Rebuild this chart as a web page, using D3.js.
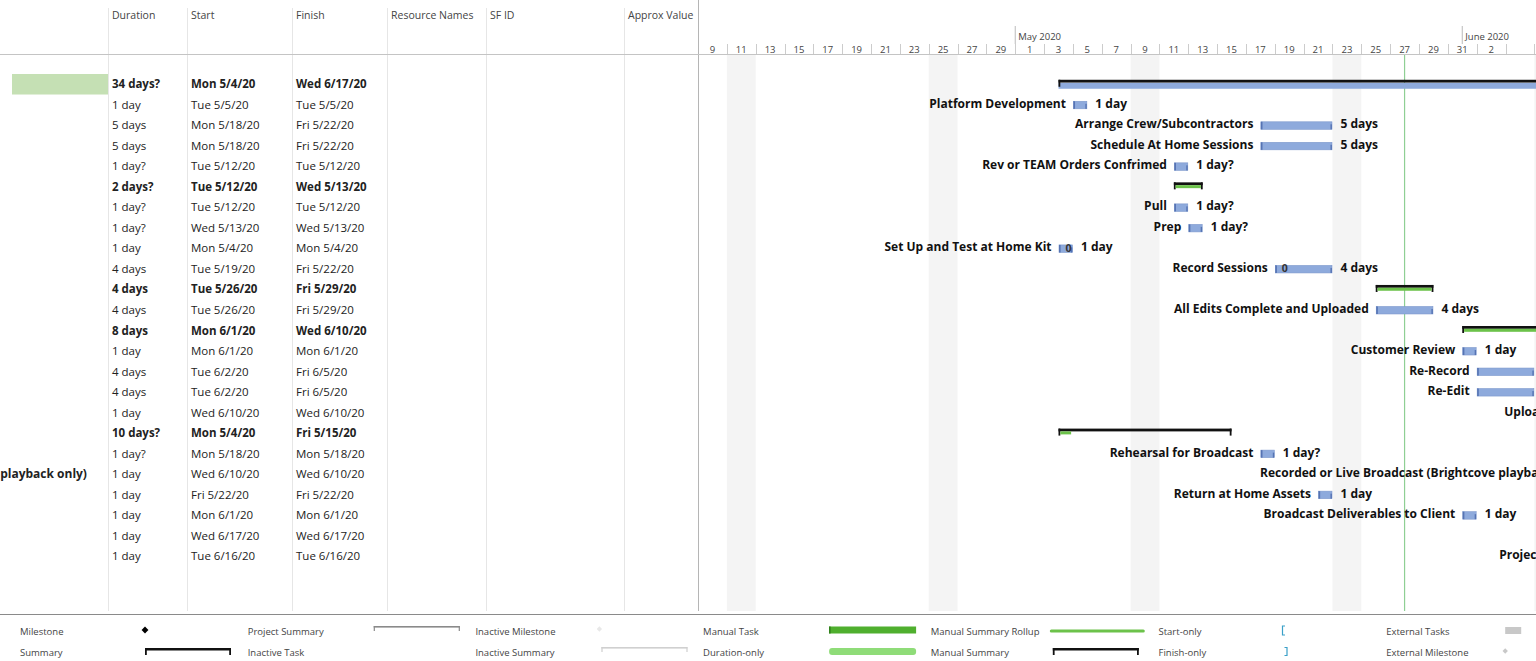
<!DOCTYPE html>
<html lang="en">
<head>
    <meta charset="UTF-8">
    <script src="https://cdn.jsdelivr.net/npm/d3@7"></script>
    <style>
        body { margin: 0; background: #fff; }
        svg { display: block; font-family: "Open Sans", "Noto Sans", sans-serif; }
        .hdr { font-size: 10.5px; fill: #444; }
        .cell { font-size: 11.5px; fill: #222; }
        .bold { font-weight: bold; }
        .lbl { font-size: 12px; font-weight: bold; fill: #111; }
        .leg { font-size: 9.5px; fill: #444; }
    </style>
</head>
<body>
<svg width="1536" height="661"></svg>
<script>
    // table columns
    var columns = ["Duration", "Start", "Finish", "Resource Names", "SF ID", "Approx Value"];

    // tasks, one entry per row
    var names = ["", "Platform Development", "Arrange Crew/Subcontractors", "Schedule At Home Sessions",
        "Rev or TEAM Orders Confrimed", "", "Pull", "Prep", "Set Up and Test at Home Kit", "Record Sessions",
        "", "All Edits Complete and Uploaded", "", "Customer Review", "Re-Record", "Re-Edit", "Upload Finals",
        "", "Rehearsal for Broadcast", "Recorded or Live Broadcast (Brightcove playback only)",
        "Return at Home Assets", "Broadcast Deliverables to Client", "Invoice Client", "Project Closeout with Clients"];
    var durations = ["34 days?", "1 day", "5 days", "5 days", "1 day?", "2 days?", "1 day?", "1 day?", "1 day",
        "4 days", "4 days", "4 days", "8 days", "1 day", "4 days", "4 days", "1 day", "10 days?", "1 day?",
        "1 day", "1 day", "1 day", "1 day", "1 day"];
    var starts = ["Mon 5/4/20", "Tue 5/5/20", "Mon 5/18/20", "Mon 5/18/20", "Tue 5/12/20", "Tue 5/12/20",
        "Tue 5/12/20", "Wed 5/13/20", "Mon 5/4/20", "Tue 5/19/20", "Tue 5/26/20", "Tue 5/26/20", "Mon 6/1/20",
        "Mon 6/1/20", "Tue 6/2/20", "Tue 6/2/20", "Wed 6/10/20", "Mon 5/4/20", "Mon 5/18/20", "Wed 6/10/20",
        "Fri 5/22/20", "Mon 6/1/20", "Wed 6/17/20", "Tue 6/16/20"];
    var finishes = ["Wed 6/17/20", "Tue 5/5/20", "Fri 5/22/20", "Fri 5/22/20", "Tue 5/12/20", "Wed 5/13/20",
        "Tue 5/12/20", "Wed 5/13/20", "Mon 5/4/20", "Fri 5/22/20", "Fri 5/29/20", "Fri 5/29/20", "Wed 6/10/20",
        "Mon 6/1/20", "Fri 6/5/20", "Fri 6/5/20", "Wed 6/10/20", "Fri 5/15/20", "Mon 5/18/20", "Wed 6/10/20",
        "Fri 5/22/20", "Mon 6/1/20", "Wed 6/17/20", "Tue 6/16/20"];
    var summaryRows = [0, 5, 10, 12, 17];
    // green rollup segments under the summary bars: [row, start, finish]
    var rollups = [[5, "5/12/20", "5/13/20"], [10, "5/26/20", "5/29/20"], [12, "6/1/20", "6/10/20"], [17, "5/4/20", "5/4/20"]];
    var indicatorRows = [8, 9];

    // timescale
    var viewStart = "4/9/20";
    var viewEnd = "6/7/20";
    var lastDayLabel = "6/2/20";
    var monthLabels = ["May 2020", "June 2020"];
    var monthStarts = ["5/1/20", "6/1/20"];
    var weekendShade = ["4/11/20", "4/25/20", "5/9/20", "5/23/20", "6/6/20"];
    var statusDate = "5/28/20";

    // legend
    var legendItems = [
        ["Milestone", "diamond"], ["Summary", "summary"],
        ["Project Summary", "projsum"], ["Inactive Task", "none"],
        ["Inactive Milestone", "fadediamond"], ["Inactive Summary", "fadesum"],
        ["Manual Task", "manual"], ["Duration-only", "duronly"],
        ["Manual Summary Rollup", "rollup"], ["Manual Summary", "summary"],
        ["Start-only", "startonly"], ["Finish-only", "finishonly"],
        ["External Tasks", "exttask"], ["External Milestone", "extmile"]
    ];
</script>
<script>
    var svg = d3.select("svg");
    var W = 1536, H = 661;
    var chartLeft = 698, headerBottom = 54, rowTop = 74, rowH = 20.52, gridBottom = 611;
    var colX = [108, 187, 292, 387, 486, 624, 698];

    var parseShort = d3.timeParse("%m/%d/%y");
    var parseLong = function (s) { return parseShort(s.split(" ")[1]); };

    var x = d3.scaleTime()
        .domain([parseShort(viewStart), parseShort(viewEnd)])
        .range([chartLeft, chartLeft + 59 * 14.42]);
    var y = function (i) { return rowTop + i * rowH + rowH / 2; };

    var chart = svg.append("g");
    svg.append("clipPath").attr("id", "clipChart")
        .append("rect").attr("x", chartLeft).attr("y", 0).attr("width", W - chartLeft).attr("height", gridBottom);
    chart.attr("clip-path", "url(#clipChart)");

    // weekend bands
    chart.selectAll(".wk").data(weekendShade).enter().append("rect")
        .attr("x", function (d) { return x(parseShort(d)); })
        .attr("y", headerBottom + 1)
        .attr("width", function (d) { return x(d3.timeDay.offset(parseShort(d), 2)) - x(parseShort(d)); })
        .attr("height", gridBottom - headerBottom)
        .attr("fill", "#f4f4f4");

    // status date line
    chart.append("line")
        .attr("x1", x(parseShort(statusDate))).attr("x2", x(parseShort(statusDate)))
        .attr("y1", headerBottom).attr("y2", gridBottom)
        .attr("stroke", "#8fcf94").attr("stroke-width", 1.2);

    // timescale: month tier
    monthStarts.forEach(function (m, i) {
        var mx = x(parseShort(m));
        chart.append("line").attr("x1", mx).attr("x2", mx).attr("y1", 26).attr("y2", 44)
            .attr("stroke", "#bbb");
        chart.append("text").attr("class", "hdr").attr("x", mx + 3).attr("y", 40)
            .style("font-size", "9.5px").text(monthLabels[i]);
    });

    // timescale: day tier (two-day cells)
    var cells = d3.range(0, 30).map(function (k) { return d3.timeDay.offset(parseShort(viewStart), 2 * k); });
    var labelled = cells.filter(function (d) { return d <= parseShort(lastDayLabel); });
    var fmtDay = d3.timeFormat("%-d");
    chart.selectAll(".dtick").data(cells).enter().append("line")
        .attr("x1", function (d) { return Math.round(x(d)) + 0.5; })
        .attr("x2", function (d) { return Math.round(x(d)) + 0.5; })
        .attr("y1", 44).attr("y2", headerBottom)
        .attr("stroke", "#ccc");
    chart.selectAll(".dlab").data(labelled).enter().append("text")
        .attr("class", "hdr")
        .attr("x", function (d) { return (x(d) + x(d3.timeDay.offset(d, 2))) / 2; })
        .attr("y", 53)
        .attr("text-anchor", "middle")
        .style("font-size", "9.5px")
        .text(function (d) { return fmtDay(d); });

    // table grid lines
    colX.forEach(function (cx, i) {
        svg.append("line").attr("x1", cx + 0.5).attr("x2", cx + 0.5)
            .attr("y1", i === colX.length - 1 ? 0 : 8).attr("y2", gridBottom)
            .attr("stroke", i === colX.length - 1 ? "#b5b5b5" : "#e6e6e6");
    });
    svg.append("line").attr("x1", 0).attr("x2", W).attr("y1", headerBottom + 0.5).attr("y2", headerBottom + 0.5)
        .attr("stroke", "#c4c4c4");

    // column headers
    svg.selectAll(".colh").data(columns).enter().append("text")
        .attr("class", "hdr")
        .attr("x", function (d, i) { return colX[i] + 4; })
        .attr("y", 19)
        .text(function (d) { return d; });

    // name cell highlight on first row
    svg.append("rect").attr("x", 12).attr("y", rowTop).attr("width", colX[0] - 12).attr("height", rowH)
        .attr("fill", "#c5e0b4");

    // table cells
    var isSum = function (i) { return summaryRows.indexOf(i) >= 0; };
    var table = svg.append("g");
    svg.append("clipPath").attr("id", "clipName")
        .append("rect").attr("x", 0).attr("y", 0).attr("width", colX[0]).attr("height", gridBottom);
    svg.append("g").attr("clip-path", "url(#clipName)")
        .selectAll("text").data(names).enter().append("text")
        .attr("class", "cell bold")
        .style("font-size", "12px")
        .attr("x", -238)
        .attr("y", function (d, i) { return y(i) + 4; })
        .text(function (d) { return d; });

    [durations, starts, finishes].forEach(function (col, c) {
        table.selectAll(".c" + c).data(col).enter().append("text")
            .attr("class", function (d, i) { return "cell" + (isSum(i) ? " bold" : ""); })
            .attr("x", colX[c] + 4)
            .attr("y", function (d, i) { return y(i) + 4; })
            .text(function (d) { return d; });
    });

    // bars
    var blue = "#8eaadc", blueEdge = "#5573b3", green = "#6cc24a";
    names.forEach(function (name, i) {
        var s = parseLong(starts[i]);
        var f = d3.timeDay.offset(parseLong(finishes[i]), 1);
        var x0 = x(s), x1 = x(f), cy = y(i);
        if (isSum(i)) {
            if (i === 0) {
                chart.append("rect").attr("x", x0).attr("y", cy - 1.5).attr("width", x1 - x0).attr("height", 6)
                    .attr("fill", blue);
            }
            chart.append("rect").attr("x", x0).attr("y", cy - 4.5).attr("width", x1 - x0).attr("height", 2.8)
                .attr("fill", "#111");
            chart.append("rect").attr("x", x0).attr("y", cy - 4.5).attr("width", 1.8).attr("height", 7)
                .attr("fill", "#111");
            if (i !== 0) {
                chart.append("rect").attr("x", x1 - 1.8).attr("y", cy - 4.5).attr("width", 1.8).attr("height", 7)
                    .attr("fill", "#111");
            }
            return;
        }
        chart.append("rect").attr("x", x0 + 0.5).attr("y", cy - 3.5).attr("width", x1 - x0 - 1).attr("height", 7.5)
            .attr("fill", blue).attr("stroke", "#7d98cc").attr("stroke-width", 0.6);
        chart.append("rect").attr("x", x0 + 0.5).attr("y", cy - 3.5).attr("width", 1.6).attr("height", 7.5)
            .attr("fill", blueEdge);
        chart.append("rect").attr("x", x1 - 2).attr("y", cy - 1).attr("width", 1.4).attr("height", 5)
            .attr("fill", blueEdge);
        chart.append("text").attr("class", "lbl").attr("x", x0 - 7).attr("y", cy + 3)
            .attr("text-anchor", "end").text(name);
        chart.append("text").attr("class", "lbl").attr("x", x1 + 8).attr("y", cy + 3)
            .text(durations[i]);
        if (indicatorRows.indexOf(i) >= 0) {
            chart.append("text").attr("class", "lbl").attr("x", x0 + 10).attr("y", cy + 3.5)
                .attr("text-anchor", "middle").style("font-size", "10.5px").style("fill", "#333").text("0");
        }
    });

    // rollups
    rollups.forEach(function (r) {
        var x0 = x(parseShort(r[1])), x1 = x(d3.timeDay.offset(parseShort(r[2]), 1));
        chart.append("rect").attr("x", x0 + 1.8).attr("y", y(r[0]) - 1.7).attr("width", x1 - x0 - 3.6).attr("height", 3)
            .attr("fill", green);
    });

    // legend
    svg.append("line").attr("x1", 0).attr("x2", W).attr("y1", 614.5).attr("y2", 614.5)
        .attr("stroke", "#8a8a8a").attr("stroke-width", 1.2);
    var leg = svg.append("g");
    legendItems.forEach(function (it, k) {
        var col = Math.floor(k / 2), row = k % 2;
        var lx = 20 + col * 227.7, ly = row === 0 ? 631 : 652;
        var sx = lx + 125;
        leg.append("text").attr("class", "leg").attr("x", lx).attr("y", ly + 3.5).text(it[0]);
        var g = leg.append("g");
        switch (it[1]) {
            case "diamond":
                g.append("path").attr("d", d3.symbol(d3.symbolDiamond2, 30)())
                    .attr("transform", "translate(" + sx + "," + (ly - 1) + ")").attr("fill", "#000");
                break;
            case "fadediamond":
                g.append("path").attr("d", d3.symbol(d3.symbolDiamond2, 18)())
                    .attr("transform", "translate(" + (sx - 1) + "," + (ly - 2) + ")").attr("fill", "#e8e8e8");
                break;
            case "extmile":
                g.append("path").attr("d", d3.symbol(d3.symbolDiamond2, 18)())
                    .attr("transform", "translate(" + (sx - 6) + "," + (ly - 1) + ")").attr("fill", "#c8c8c8");
                break;
            case "summary":
                var sw = 86;
                var ox = it[0] === "Summary" ? 0 : -3;
                g.append("rect").attr("x", sx + ox).attr("y", ly - 4).attr("width", sw).attr("height", 2.5).attr("fill", "#111");
                g.append("rect").attr("x", sx + ox).attr("y", ly - 4).attr("width", 1.8).attr("height", 7).attr("fill", "#111");
                g.append("rect").attr("x", sx + ox + sw - 1.8).attr("y", ly - 4).attr("width", 1.8).attr("height", 7).attr("fill", "#111");
                break;
            case "projsum":
            case "fadesum":
                var c = it[1] === "projsum" ? "#8a8a8a" : "#d0d0d0";
                g.append("rect").attr("x", sx + 1).attr("y", ly - 5).attr("width", 86).attr("height", 1.6).attr("fill", c);
                g.append("rect").attr("x", sx + 1).attr("y", ly - 5).attr("width", 1.2).attr("height", 5).attr("fill", c);
                g.append("rect").attr("x", sx + 86).attr("y", ly - 5).attr("width", 1.2).attr("height", 5).attr("fill", c);
                break;
            case "manual":
                g.append("rect").attr("x", sx + 1).attr("y", ly - 4.5).attr("width", 87).attr("height", 7).attr("fill", "#4faf2e");
                g.append("rect").attr("x", sx + 1).attr("y", ly - 4.5).attr("width", 1.5).attr("height", 7).attr("fill", "#2e7d1a");
                break;
            case "duronly":
                g.append("rect").attr("x", sx + 1).attr("y", ly - 4).attr("width", 87).attr("height", 7)
                    .attr("rx", 3).attr("fill", "#8fdc78");
                break;
            case "rollup":
                g.append("rect").attr("x", sx - 6).attr("y", ly - 1.5).attr("width", 95).attr("height", 3)
                    .attr("rx", 1.5).attr("fill", "#6cc24a");
                break;
            case "startonly":
                g.append("path").attr("d", "M" + (sx + 1.5) + "," + (ly - 5) + "h-2.5v9h2.5")
                    .attr("fill", "none").attr("stroke", "#3aa0c8").attr("stroke-width", 1.2);
                break;
            case "finishonly":
                g.append("path").attr("d", "M" + (sx + 1) + "," + (ly - 4.5) + "h2.5v8h-2.5")
                    .attr("fill", "none").attr("stroke", "#3aa0c8").attr("stroke-width", 1.2);
                break;
            case "exttask":
                g.append("rect").attr("x", sx - 6).attr("y", ly - 4).attr("width", 16).attr("height", 7).attr("fill", "#c8c8c8");
                break;
        }
    });
</script>
</body>
</html>
